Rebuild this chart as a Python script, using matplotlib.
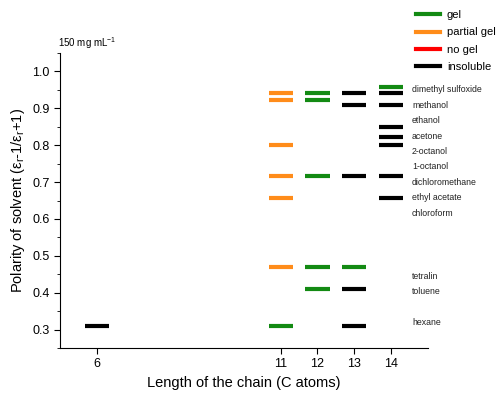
import matplotlib
matplotlib.use("Agg")
import matplotlib.pyplot as plt
import numpy as np
from matplotlib.lines import Line2D
from matplotlib.ticker import MultipleLocator

plt.rcParams["font.family"] = ["Liberation Sans", "DejaVu Sans"]
plt.rcParams["mathtext.fontset"] = "custom"
plt.rcParams["mathtext.rm"] = "Liberation Sans"
plt.rcParams["mathtext.it"] = "Liberation Sans:italic"

# gelation results: chain length, solvent polarity, outcome
chain = [6,
         11, 11, 11, 11, 11, 11, 11,
         12, 12, 12, 12, 12,
         13, 13, 13, 13, 13, 13,
         14, 14, 14, 14, 14, 14, 14, 14]
polarity = [0.31,
            0.941, 0.922, 0.80, 0.716, 0.657, 0.469, 0.311,
            0.941, 0.922, 0.716, 0.469, 0.409,
            0.941, 0.908, 0.716, 0.469, 0.409, 0.311,
            0.959, 0.941, 0.908, 0.849, 0.823, 0.80, 0.716, 0.657]
state = ["insoluble",
         "partial gel", "partial gel", "partial gel", "partial gel", "partial gel", "partial gel", "gel",
         "gel", "gel", "gel", "gel", "gel",
         "insoluble", "insoluble", "insoluble", "gel", "insoluble", "insoluble",
         "gel", "insoluble", "insoluble", "insoluble", "insoluble", "insoluble", "insoluble", "insoluble"]

solvents = ["dimethyl sulfoxide", "methanol", "ethanol", "acetone", "2-octanol",
            "1-octanol", "dichloromethane", "ethyl acetate", "chloroform",
            "tetralin", "toluene", "hexane"]
solvent_y = [0.951, 0.908, 0.866, 0.824, 0.782, 0.741, 0.698, 0.658, 0.614,
             0.445, 0.404, 0.318]

x_ticks = [6, 11, 12, 13, 14]
colors = {"gel": "#138a13", "partial gel": "#ff8c1a", "no gel": "#ff0000",
          "insoluble": "#000000"}

fig = plt.figure(figsize=(4.98, 4.05), dpi=100)
ax = fig.add_axes([0.1205, 0.1407, 0.7385, 0.7284])

x = np.array(chain, dtype=float)
ax.hlines(polarity, x - 0.33, x + 0.33, colors=[colors[s] for s in state], linewidth=3)

for name, yy in zip(solvents, solvent_y):
    ax.text(14.57, yy, name, fontsize=6.3, va="center", ha="left", color="#222222",
            clip_on=False)

ax.set_xlim(5, 15)
ax.set_ylim(0.25, 1.05)
ax.set_xticks(x_ticks)
ax.yaxis.set_major_locator(MultipleLocator(0.1))
ax.yaxis.set_minor_locator(MultipleLocator(0.05))
ax.spines["top"].set_visible(False)
ax.spines["right"].set_visible(False)
ax.tick_params(axis="both", which="major", length=4, labelsize=9, direction="out")
ax.tick_params(axis="y", which="minor", length=2.5)

ax.set_xlabel("Length of the chain (C atoms)", fontsize=10.5)
ax.set_ylabel(r"Polarity of solvent ($\mathregular{\epsilon_r}$-1/$\mathregular{\epsilon_r}$+1)",
              fontsize=10.5)
fig.text(0.117, 0.883, r"150 mg mL$^{\mathregular{-1}}$", fontsize=7)

handles = [Line2D([], [], color=colors[k], linewidth=3) for k in colors]
fig.legend(handles, list(colors), loc="upper left", bbox_to_anchor=(0.835, 0.975),
           frameon=False, fontsize=8, handlelength=2.2, handletextpad=0.6,
           labelspacing=0.66, borderaxespad=0, borderpad=0)

fig.savefig("out.png", dpi=100)
